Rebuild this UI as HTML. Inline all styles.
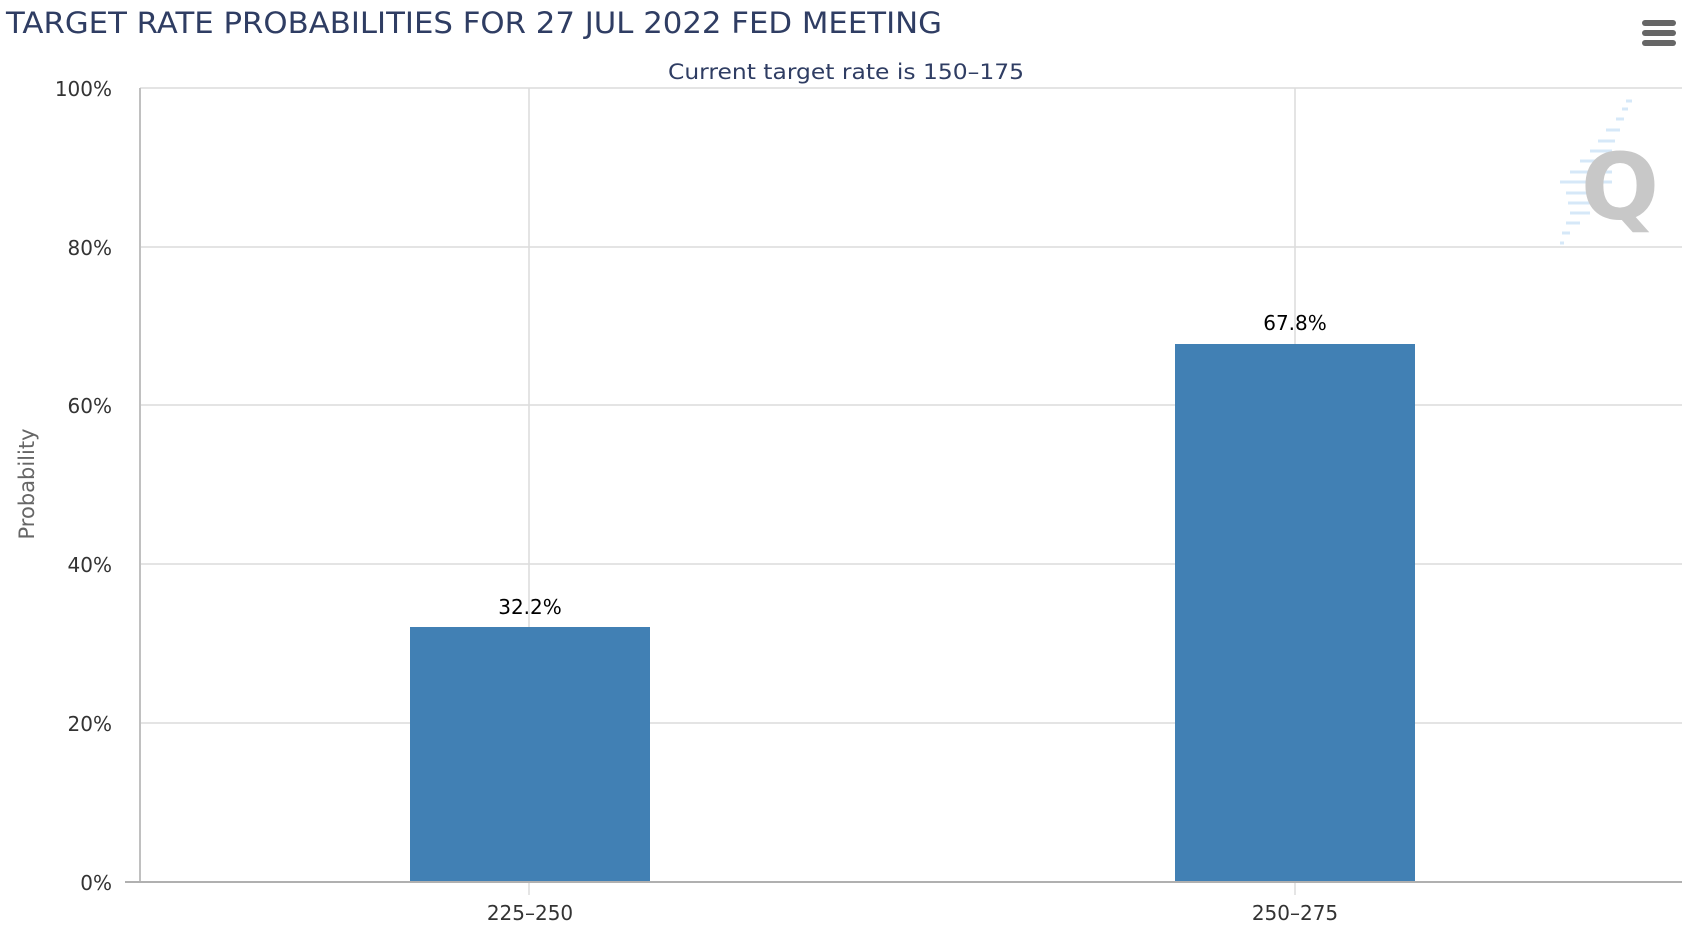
<!DOCTYPE html>
<html><head><meta charset="utf-8"><style>
html,body{margin:0;padding:0;background:#fff;width:1690px;height:928px;overflow:hidden}
svg{display:block}
text{font-family:"DejaVu Sans","Liberation Sans",sans-serif}
</style></head><body>
<svg width="1690" height="928" viewBox="0 0 1690 928">
<text x="6" y="33" font-size="29" fill="#2f3d63" textLength="936" lengthAdjust="spacingAndGlyphs">TARGET RATE PROBABILITIES FOR 27 JUL 2022 FED MEETING</text>
<text x="846" y="79" font-size="21" fill="#2f3d63" text-anchor="middle" textLength="356" lengthAdjust="spacingAndGlyphs">Current target rate is 150–175</text>
<g fill="#666"><rect x="1642" y="20" width="34" height="6" rx="3"/><rect x="1642" y="30" width="34" height="6" rx="3"/><rect x="1642" y="40" width="34" height="6" rx="3"/></g>
<g stroke="#dcdcdc" stroke-width="1.5">
<line x1="140" y1="88" x2="1682" y2="88"/>
<line x1="140" y1="247" x2="1682" y2="247"/>
<line x1="140" y1="405" x2="1682" y2="405"/>
<line x1="140" y1="564" x2="1682" y2="564"/>
<line x1="140" y1="723" x2="1682" y2="723"/>
<line x1="529" y1="88" x2="529" y2="882"/>
<line x1="1295" y1="88" x2="1295" y2="882"/>
<line x1="529" y1="882" x2="529" y2="895"/>
<line x1="1295" y1="882" x2="1295" y2="895"/>
</g>
<g stroke="#d6e8f8" stroke-width="3">
<line x1="1626" y1="101" x2="1632" y2="101"/>
<line x1="1622" y1="109" x2="1628" y2="109"/>
<line x1="1616" y1="119" x2="1624" y2="119"/>
<line x1="1606" y1="130" x2="1620" y2="130"/>
<line x1="1598" y1="141" x2="1615" y2="141"/>
<line x1="1590" y1="151" x2="1612" y2="151"/>
<line x1="1580" y1="161" x2="1612" y2="161"/>
<line x1="1570" y1="172" x2="1612" y2="172"/>
<line x1="1560" y1="182" x2="1612" y2="182"/>
<line x1="1566" y1="193" x2="1600" y2="193"/>
<line x1="1568" y1="203" x2="1595" y2="203"/>
<line x1="1570" y1="213" x2="1590" y2="213"/>
<line x1="1566" y1="223" x2="1580" y2="223"/>
<line x1="1562" y1="233" x2="1570" y2="233"/>
<line x1="1560" y1="243" x2="1564" y2="243"/>
</g>
<text x="1620" y="219" font-size="92" font-weight="bold" fill="#c8c8c8" text-anchor="middle" font-family="Liberation Sans, sans-serif">Q</text>
<rect x="410" y="627" width="240" height="255" fill="#4180b4"/>
<rect x="1175" y="344" width="240" height="538" fill="#4180b4"/>
<line x1="140" y1="88" x2="140" y2="883" stroke="#c0c0c0" stroke-width="2"/>
<line x1="125" y1="882" x2="1682" y2="882" stroke="#b0b0b0" stroke-width="2"/>
<g font-size="20" fill="#333" text-anchor="end">
<text x="112" y="96">100%</text>
<text x="112" y="255">80%</text>
<text x="112" y="413">60%</text>
<text x="112" y="572">40%</text>
<text x="112" y="731">20%</text>
<text x="112" y="890">0%</text>
</g>
<g font-size="20" fill="#333" text-anchor="middle">
<text x="530" y="920">225–250</text>
<text x="1295" y="920">250–275</text>
</g>
<g font-size="20" fill="#000" text-anchor="middle">
<text x="530" y="614">32.2%</text>
<text x="1295" y="330">67.8%</text>
</g>
<text transform="translate(34,484) rotate(-90)" font-size="21" fill="#666" text-anchor="middle">Probability</text>
</svg>
</body></html>
